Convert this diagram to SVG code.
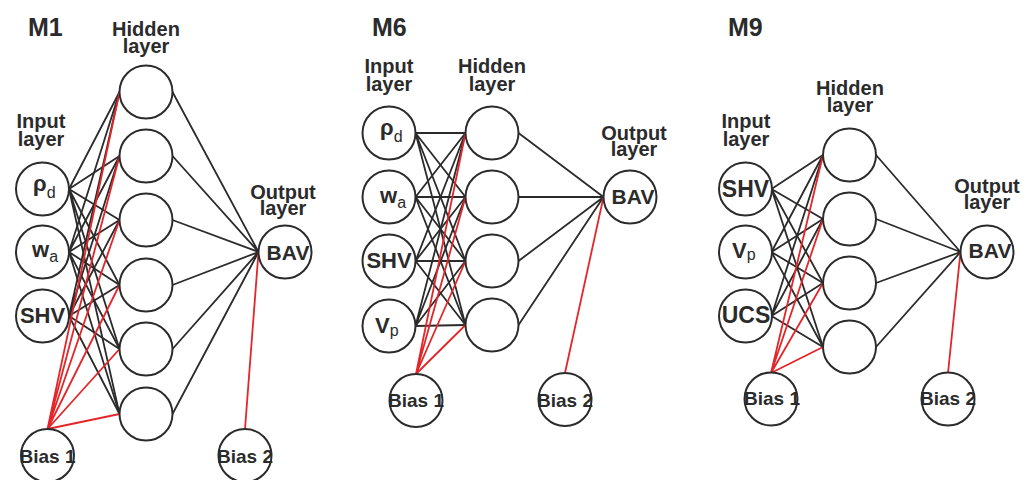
<svg xmlns="http://www.w3.org/2000/svg" width="1034" height="480" viewBox="0 0 1034 480">
  <style>
    .node { fill: #ffffff; stroke: #2b2b2b; stroke-width: 2; }
    .w { stroke: #2b2b2b; stroke-width: 1.8; fill: none; }
    .b { stroke: #e3262a; stroke-width: 1.8; fill: none; }
    text { font-family: "Liberation Sans", Arial, sans-serif; font-weight: bold; fill: #2b2b2b; }
    .title { font-size: 25px; }
    .hdr { font-size: 20px; text-anchor: middle; }
    .lbl { font-size: 22px; }
    .mid { text-anchor: middle; }
    .sub { font-size: 16px; font-weight: normal; }
    .bav { font-size: 21px; text-anchor: middle; }
    .bias { font-size: 19px; text-anchor: middle; }
  </style>

  <!-- ===== Model M1 ===== -->
  <text class="title" x="28" y="36">M1</text>
  <text class="hdr"><tspan x="146" y="36">Hidden</tspan><tspan x="146" y="53">layer</tspan></text>
  <text class="hdr"><tspan x="41" y="128">Input</tspan><tspan x="41" y="146">layer</tspan></text>
  <text class="hdr"><tspan x="283" y="199">Output</tspan><tspan x="283" y="215">layer</tspan></text>

  <g id="m1-connectors">
    <!-- input -> hidden -->
    <path class="w" d="M69 189L119.5 92M69 189L119.5 156M69 189L119.5 220M69 189L119.5 285M69 189L119.5 349M69 189L119.5 414"/>
    <path class="w" d="M69 252L119.5 92M69 252L119.5 156M69 252L119.5 220M69 252L119.5 285M69 252L119.5 349M69 252L119.5 414"/>
    <path class="w" d="M69 316L119.5 92M69 316L119.5 156M69 316L119.5 220M69 316L119.5 285M69 316L119.5 349M69 316L119.5 414"/>
    <!-- hidden -> output -->
    <path class="w" d="M172.5 92L258.5 252M172.5 156L258.5 252M172.5 220L258.5 252M172.5 285L258.5 252M172.5 349L258.5 252M172.5 414L258.5 252"/>
    <!-- bias -->
    <path class="b" d="M47.5 429L119.5 92M47.5 429L119.5 156M47.5 429L119.5 220M47.5 429L119.5 285M47.5 429L119.5 349M47.5 429L119.5 414"/>
    <path class="b" d="M245 429L258.5 252"/>
  </g>

  <g id="m1-in-rho"><circle class="node" cx="42.5" cy="189" r="26.5"/><text class="lbl" x="33" y="191">ρ<tspan class="sub" dy="7">d</tspan></text></g>
  <g id="m1-in-wa"><circle class="node" cx="42.5" cy="252" r="26.5"/><text class="lbl" x="32" y="257">w<tspan class="sub" dy="5">a</tspan></text></g>
  <g id="m1-in-shv"><circle class="node" cx="42.5" cy="316" r="26.5"/><text class="lbl mid" x="42.5" y="323">SHV</text></g>
  <g id="m1-h1"><circle class="node" cx="146" cy="92" r="26.5"/></g>
  <g id="m1-h2"><circle class="node" cx="146" cy="156" r="26.5"/></g>
  <g id="m1-h3"><circle class="node" cx="146" cy="220" r="26.5"/></g>
  <g id="m1-h4"><circle class="node" cx="146" cy="285" r="26.5"/></g>
  <g id="m1-h5"><circle class="node" cx="146" cy="349" r="26.5"/></g>
  <g id="m1-h6"><circle class="node" cx="146" cy="414" r="26.5"/></g>
  <g id="m1-out"><circle class="node" cx="285" cy="252" r="26.5"/><text class="bav" x="288" y="260">BAV</text></g>
  <g id="m1-bias1"><circle class="node" cx="47.5" cy="455.5" r="26.5"/><text class="bias" x="47.5" y="463">Bias 1</text></g>
  <g id="m1-bias2"><circle class="node" cx="245" cy="455.5" r="26.5"/><text class="bias" x="245" y="463">Bias 2</text></g>

  <!-- ===== Model M6 ===== -->
  <text class="title" x="372" y="36">M6</text>
  <text class="hdr"><tspan x="389" y="73">Input</tspan><tspan x="389" y="91">layer</tspan></text>
  <text class="hdr"><tspan x="492" y="73">Hidden</tspan><tspan x="492" y="91">layer</tspan></text>
  <text class="hdr"><tspan x="634" y="140">Output</tspan><tspan x="634" y="156">layer</tspan></text>

  <g id="m6-connectors">
    <path class="w" d="M415.5 133L465.5 133M415.5 133L465.5 197M415.5 133L465.5 261M415.5 133L465.5 325"/>
    <path class="w" d="M415.5 197L465.5 133M415.5 197L465.5 197M415.5 197L465.5 261M415.5 197L465.5 325"/>
    <path class="w" d="M415.5 261L465.5 133M415.5 261L465.5 197M415.5 261L465.5 261M415.5 261L465.5 325"/>
    <path class="w" d="M415.5 326L465.5 133M415.5 326L465.5 197M415.5 326L465.5 261M415.5 326L465.5 325"/>
    <path class="w" d="M518.5 133L603.5 197M518.5 197L603.5 197M518.5 261L603.5 197M518.5 325L603.5 197"/>
    <path class="b" d="M416 374L465.5 133M416 374L465.5 197M416 374L465.5 261M416 374L465.5 325"/>
    <path class="b" d="M565 373L603.5 197"/>
  </g>

  <g id="m6-in-rho"><circle class="node" cx="389" cy="133" r="26.5"/><text class="lbl" x="380" y="135">ρ<tspan class="sub" dy="7">d</tspan></text></g>
  <g id="m6-in-wa"><circle class="node" cx="389" cy="197" r="26.5"/><text class="lbl" x="380" y="203">w<tspan class="sub" dy="5">a</tspan></text></g>
  <g id="m6-in-shv"><circle class="node" cx="389" cy="261" r="26.5"/><text class="lbl mid" x="389" y="268">SHV</text></g>
  <g id="m6-in-vp"><circle class="node" cx="389" cy="326" r="26.5"/><text class="lbl" x="375" y="333">V<tspan class="sub" dy="3">p</tspan></text></g>
  <g id="m6-h1"><circle class="node" cx="492" cy="133" r="26.5"/></g>
  <g id="m6-h2"><circle class="node" cx="492" cy="197" r="26.5"/></g>
  <g id="m6-h3"><circle class="node" cx="492" cy="261" r="26.5"/></g>
  <g id="m6-h4"><circle class="node" cx="492" cy="325" r="26.5"/></g>
  <g id="m6-out"><circle class="node" cx="630" cy="197" r="26.5"/><text class="bav" x="633" y="204">BAV</text></g>
  <g id="m6-bias1"><circle class="node" cx="416" cy="400.5" r="26.5"/><text class="bias" x="416" y="407">Bias 1</text></g>
  <g id="m6-bias2"><circle class="node" cx="565" cy="399.5" r="26.5"/><text class="bias" x="565" y="407">Bias 2</text></g>

  <!-- ===== Model M9 ===== -->
  <text class="title" x="728" y="36">M9</text>
  <text class="hdr"><tspan x="850" y="95">Hidden</tspan><tspan x="850" y="112">layer</tspan></text>
  <text class="hdr"><tspan x="746" y="128">Input</tspan><tspan x="746" y="146">layer</tspan></text>
  <text class="hdr"><tspan x="987" y="193">Output</tspan><tspan x="987" y="209">layer</tspan></text>

  <g id="m9-connectors">
    <path class="w" d="M771.5 189L823 155M771.5 189L823 219M771.5 189L823 283M771.5 189L823 347"/>
    <path class="w" d="M771.5 252L823 155M771.5 252L823 219M771.5 252L823 283M771.5 252L823 347"/>
    <path class="w" d="M771.5 316L823 155M771.5 316L823 219M771.5 316L823 283M771.5 316L823 347"/>
    <path class="w" d="M876 155L960.5 252M876 219L960.5 252M876 283L960.5 252M876 347L960.5 252"/>
    <path class="b" d="M771 373L823 155M771 373L823 219M771 373L823 283M771 373L823 347"/>
    <path class="b" d="M948 373L960.5 252"/>
  </g>

  <g id="m9-in-shv"><circle class="node" cx="745.5" cy="189" r="26.5"/><text class="lbl mid" x="745.5" y="197" style="font-size:23px">SHV</text></g>
  <g id="m9-in-vp"><circle class="node" cx="745.5" cy="252" r="26.5"/><text class="lbl" x="732" y="258">V<tspan class="sub" dy="2">p</tspan></text></g>
  <g id="m9-in-ucs"><circle class="node" cx="745.5" cy="316" r="26.5"/><text class="lbl mid" x="746" y="323" style="font-size:23px">UCS</text></g>
  <g id="m9-h1"><circle class="node" cx="849.5" cy="155" r="26.5"/></g>
  <g id="m9-h2"><circle class="node" cx="849.5" cy="219" r="26.5"/></g>
  <g id="m9-h3"><circle class="node" cx="849.5" cy="283" r="26.5"/></g>
  <g id="m9-h4"><circle class="node" cx="849.5" cy="347" r="26.5"/></g>
  <g id="m9-out"><circle class="node" cx="987" cy="252" r="26.5"/><text class="bav" x="990" y="258">BAV</text></g>
  <g id="m9-bias1"><circle class="node" cx="771" cy="399" r="26.5"/><text class="bias" x="772" y="405">Bias 1</text></g>
  <g id="m9-bias2"><circle class="node" cx="948" cy="399" r="26.5"/><text class="bias" x="948" y="405">Bias 2</text></g>
</svg>
